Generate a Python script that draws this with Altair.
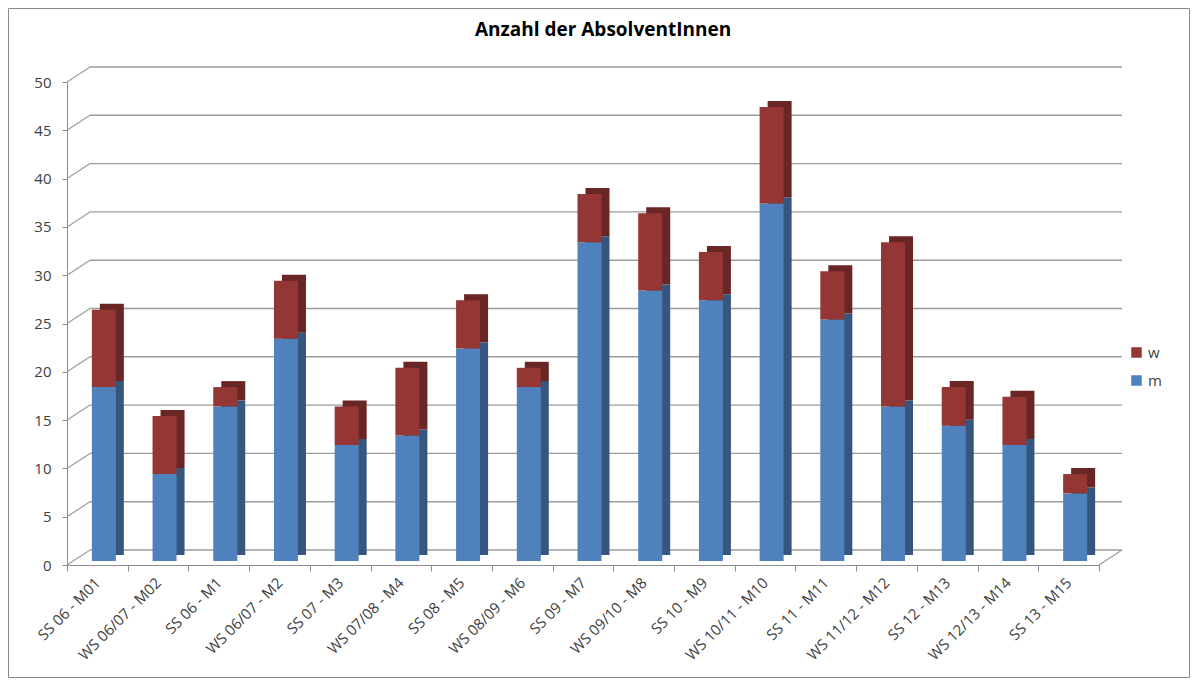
import altair as alt
import pandas as pd

chart_title = "Anzahl der AbsolventInnen"
categories = [
    "SS 06 - M01", "WS 06/07 - M02", "SS 06 - M1", "WS 06/07 - M2", "SS 07 - M3",
    "WS 07/08 - M4", "SS 08 - M5", "WS 08/09 - M6", "SS 09 - M7", "WS 09/10 - M8",
    "SS 10 - M9", "WS 10/11 - M10", "SS 11 - M11", "WS 11/12 - M12", "SS 12 - M13",
    "WS 12/13 - M14", "SS 13 - M15",
]
m_values = [18, 9, 16, 23, 12, 13, 22, 18, 33, 28, 27, 37, 25, 16, 14, 12, 7]
w_values = [8, 6, 2, 6, 4, 7, 5, 2, 5, 8, 5, 10, 5, 17, 4, 5, 2]
series_names = ["w", "m"]
grid_values = [0, 5, 10, 15, 20, 25, 30, 35, 40, 45, 50]

rows = []
for c, mv, wv in zip(categories, m_values, w_values):
    rows.append({"cat": c, "series": "m", "value": mv, "ord": 0})
    rows.append({"cat": c, "series": "w", "value": wv, "ord": 1})
df = pd.DataFrame(rows)
grid_df = pd.DataFrame({"v": grid_values})
floor_df = pd.DataFrame({"v": [0]})
frame_df = pd.DataFrame({"k": [0]})
title_df = pd.DataFrame({"t": [chart_title]})

W, H = 1032, 483
DX, DY = 23, 15
FONT = "Open Sans"
AXIS_GRAY = "#8c8c8c"
GRID_GRAY = "#9c9c9c"

x_enc = alt.X("cat:N", sort=categories, title=None,
              scale=alt.Scale(paddingInner=0, paddingOuter=0),
              axis=alt.Axis(labelAngle=315, labelAlign="right", labelBaseline="middle",
                            tickBand="extent", tickSize=6, tickColor=AXIS_GRAY,
                            domainColor=AXIS_GRAY, labelFontSize=15, labelFont=FONT,
                            labelColor="#404040", labelPadding=9, grid=False))
y_scale = alt.Scale(domain=[0, 50], nice=False)
y_axis = alt.Axis(values=grid_values, tickSize=5, tickColor=AXIS_GRAY, domainColor=AXIS_GRAY,
                  labelFontSize=15, labelFont=FONT, labelColor="#404040", labelPadding=11,
                  grid=False, title=None)

# back-wall grid lines
grid_back = alt.Chart(grid_df).mark_rule(color=GRID_GRAY, strokeWidth=1.4, yOffset=-DY).encode(
    y=alt.Y("v:Q", scale=y_scale, axis=y_axis),
    x=alt.value(DX), x2=alt.value(W + DX),
)
# diagonals from the axis to the back wall
grid_diag = alt.Chart(grid_df).mark_rule(color=GRID_GRAY, strokeWidth=1.2, y2Offset=-DY).encode(
    y=alt.Y("v:Q", scale=y_scale),
    y2=alt.Y2("v:Q"),
    x=alt.value(0), x2=alt.value(DX),
)
floor_diag = alt.Chart(floor_df).mark_rule(color=GRID_GRAY, strokeWidth=1.2, y2Offset=-DY).encode(
    y=alt.Y("v:Q", scale=y_scale),
    y2=alt.Y2("v:Q"),
    x=alt.value(W), x2=alt.value(W + DX),
)

BAR_W = 24
BASE_X = 6.5

bars_back = alt.Chart(df).mark_bar(width=BAR_W, xOffset=BASE_X + 8, yOffset=-10, y2Offset=-7).encode(
    x=x_enc,
    y=alt.Y("value:Q", stack="zero", scale=y_scale),
    order=alt.Order("ord:Q"),
    color=alt.condition("datum.series == 'm'", alt.value("#34567f"), alt.value("#6a2624")),
)

bars_front = alt.Chart(df).mark_bar(width=BAR_W, xOffset=BASE_X, yOffset=-4, y2Offset=-4).encode(
    x=x_enc,
    y=alt.Y("value:Q", stack="zero", scale=y_scale),
    order=alt.Order("ord:Q"),
    color=alt.Color("series:N",
                    scale=alt.Scale(domain=series_names, range=["#943634", "#4f81bd"]),
                    legend=alt.Legend(title=None, orient="none", legendX=1062, legendY=263,
                                      symbolType="square", symbolSize=110, symbolStrokeWidth=0,
                                      labelFontSize=15, labelFont=FONT, labelColor="#404040",
                                      rowPadding=12, labelOffset=4)),
)

# outer chart-area border
frame = alt.Chart(frame_df).mark_rect(filled=False, stroke="#8a8a8a", strokeWidth=1).encode(
    x=alt.value(-58.5), x2=alt.value(1122.5), y=alt.value(-73.5), y2=alt.value(595.5),
)

# chart title
title_txt = alt.Chart(title_df).mark_text(font=FONT, fontSize=19, fontWeight="bold", color="#000000",
                                          align="center", baseline="middle").encode(
    text="t:N", x=alt.value(536), y=alt.value(-52),
)

chart = alt.layer(frame, grid_back, grid_diag, floor_diag, bars_back, bars_front, title_txt).properties(
    width=W, height=H,
    autosize=alt.AutoSizeParams(type="none"),
    padding={"left": 59, "top": 74, "right": 91, "bottom": 113},
).configure(background="#ffffff").configure_view(stroke=None)

chart.save("out.html", embed_options={"renderer": "svg", "actions": False})
